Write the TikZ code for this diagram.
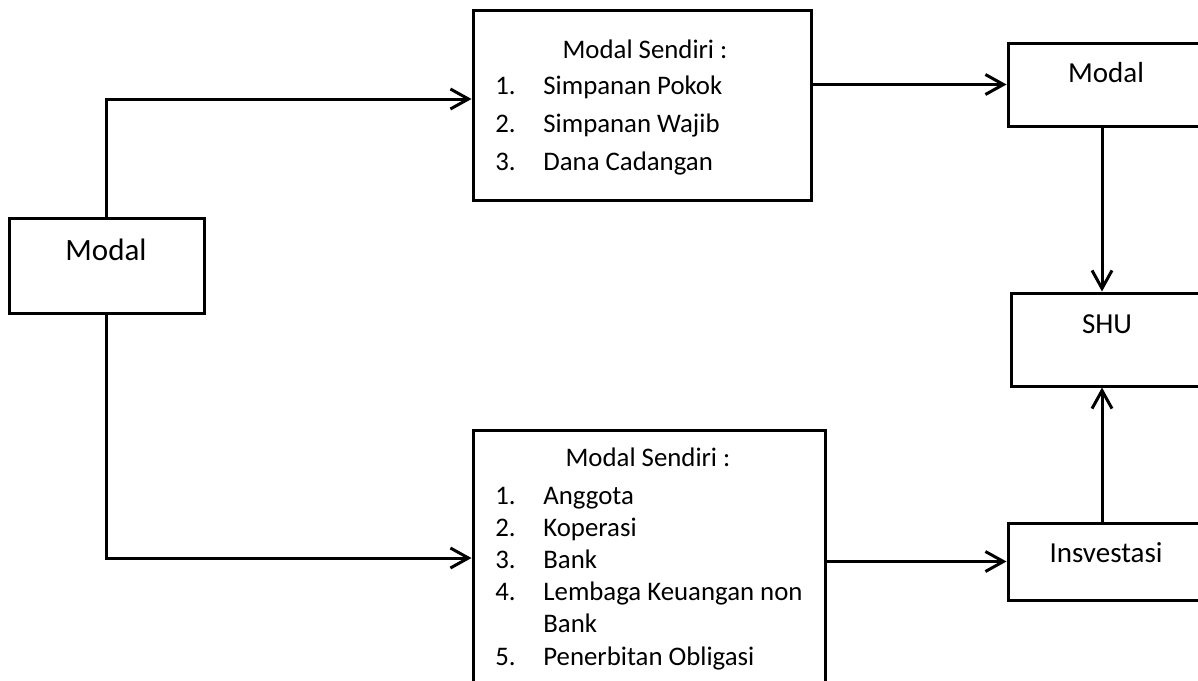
\documentclass[tikz,border=0pt]{standalone}
\usepackage{fontspec}
\setmainfont{Carlito}
\usetikzlibrary{arrows.meta}

\begin{document}
\begin{tikzpicture}[x=0.5pt,y=-0.5pt,
	box/.style={draw,line width=1.5pt,inner sep=0pt},
	conn/.style={line width=1.5pt,-{Straight Barb[length=9pt,width=10pt]}},
	lbl/.style={inner sep=0pt,anchor=base,font=\fontsize{14.5}{17}\selectfont},
	item/.style={inner sep=0pt,anchor=base west,font=\fontsize{13.4}{16}\selectfont}]
	\useasboundingbox (0,0) rectangle (1198,680);
	\clip (0,0) rectangle (1198,680);
	
	%boxes (the right ones run past the edge)
	\node[box,minimum width=97.5pt,minimum height=47.5pt] (modalL) at (106.5,265.5) {};
	\node[box,minimum width=169pt,minimum height=95pt] (sendA) at (642,105) {};
	\node[box,minimum width=176pt,minimum height=135pt] (sendB) at (649,565) {};
	\node[box,minimum width=98pt,minimum height=41.5pt] (modalR) at (1106,84.5) {};
	\node[box,minimum width=95pt,minimum height=46.5pt] (shu) at (1106,339.5) {};
	\node[box,minimum width=98pt,minimum height=38.5pt] (invest) at (1106,561.5) {};
	
	%labels
	\node[lbl,font=\fontsize{15.5}{18}\selectfont] (modalLt) at (106,260) {Modal};
	\node[lbl] (modalRt) at (1106,82) {Modal};
	\node[lbl] (shut) at (1107,333) {SHU};
	\node[lbl] (investt) at (1106,562) {Insvestasi};
	
	%list in the upper box
	\node[lbl,font=\fontsize{13.4}{16}\selectfont] (hdA) at (645,58) {Modal Sendiri :};
	\foreach \n/\t [count=\i from 0] in {1./Simpanan Pokok,2./Simpanan Wajib,3./Dana Cadangan}{
		\node[item] (nA\i) at (495,94+38*\i) {\n};
		\node[item] (tA\i) at (543,94+38*\i) {\t};
	}
	
	%list in the lower box
	\node[lbl,font=\fontsize{13.4}{16}\selectfont] (hdB) at (648,466) {Modal Sendiri :};
	\foreach \n/\k in {1/0,2/1,3/2,4/3,5/5}
		\node[item] (nB\n) at (495,504+32.2*\k) {\n.};
	\foreach \t [count=\i from 0] in {Anggota,Koperasi,Bank,Lembaga Keuangan non,Bank,Penerbitan Obligasi}
		\node[item] (tB\i) at (543,504+32.2*\i) {\t};
	
	%arrows
	\draw[conn] (modalL.north) |- ([yshift=3pt]sendA.west);
	\draw[conn] (modalL.south) |- ([yshift=3.5pt]sendB.west);
	\draw[conn] (sendA.east |- modalR.west) -- (modalR.west);
	\draw[conn] (sendB.east |- invest.west) -- (invest.west);
	\draw[conn] ([xshift=-2pt]modalR.south) -- ([xshift=-2pt]shu.north);
	\draw[conn] ([xshift=-2pt]invest.north) -- ([xshift=-2pt]shu.south);
\end{tikzpicture}
\end{document}
